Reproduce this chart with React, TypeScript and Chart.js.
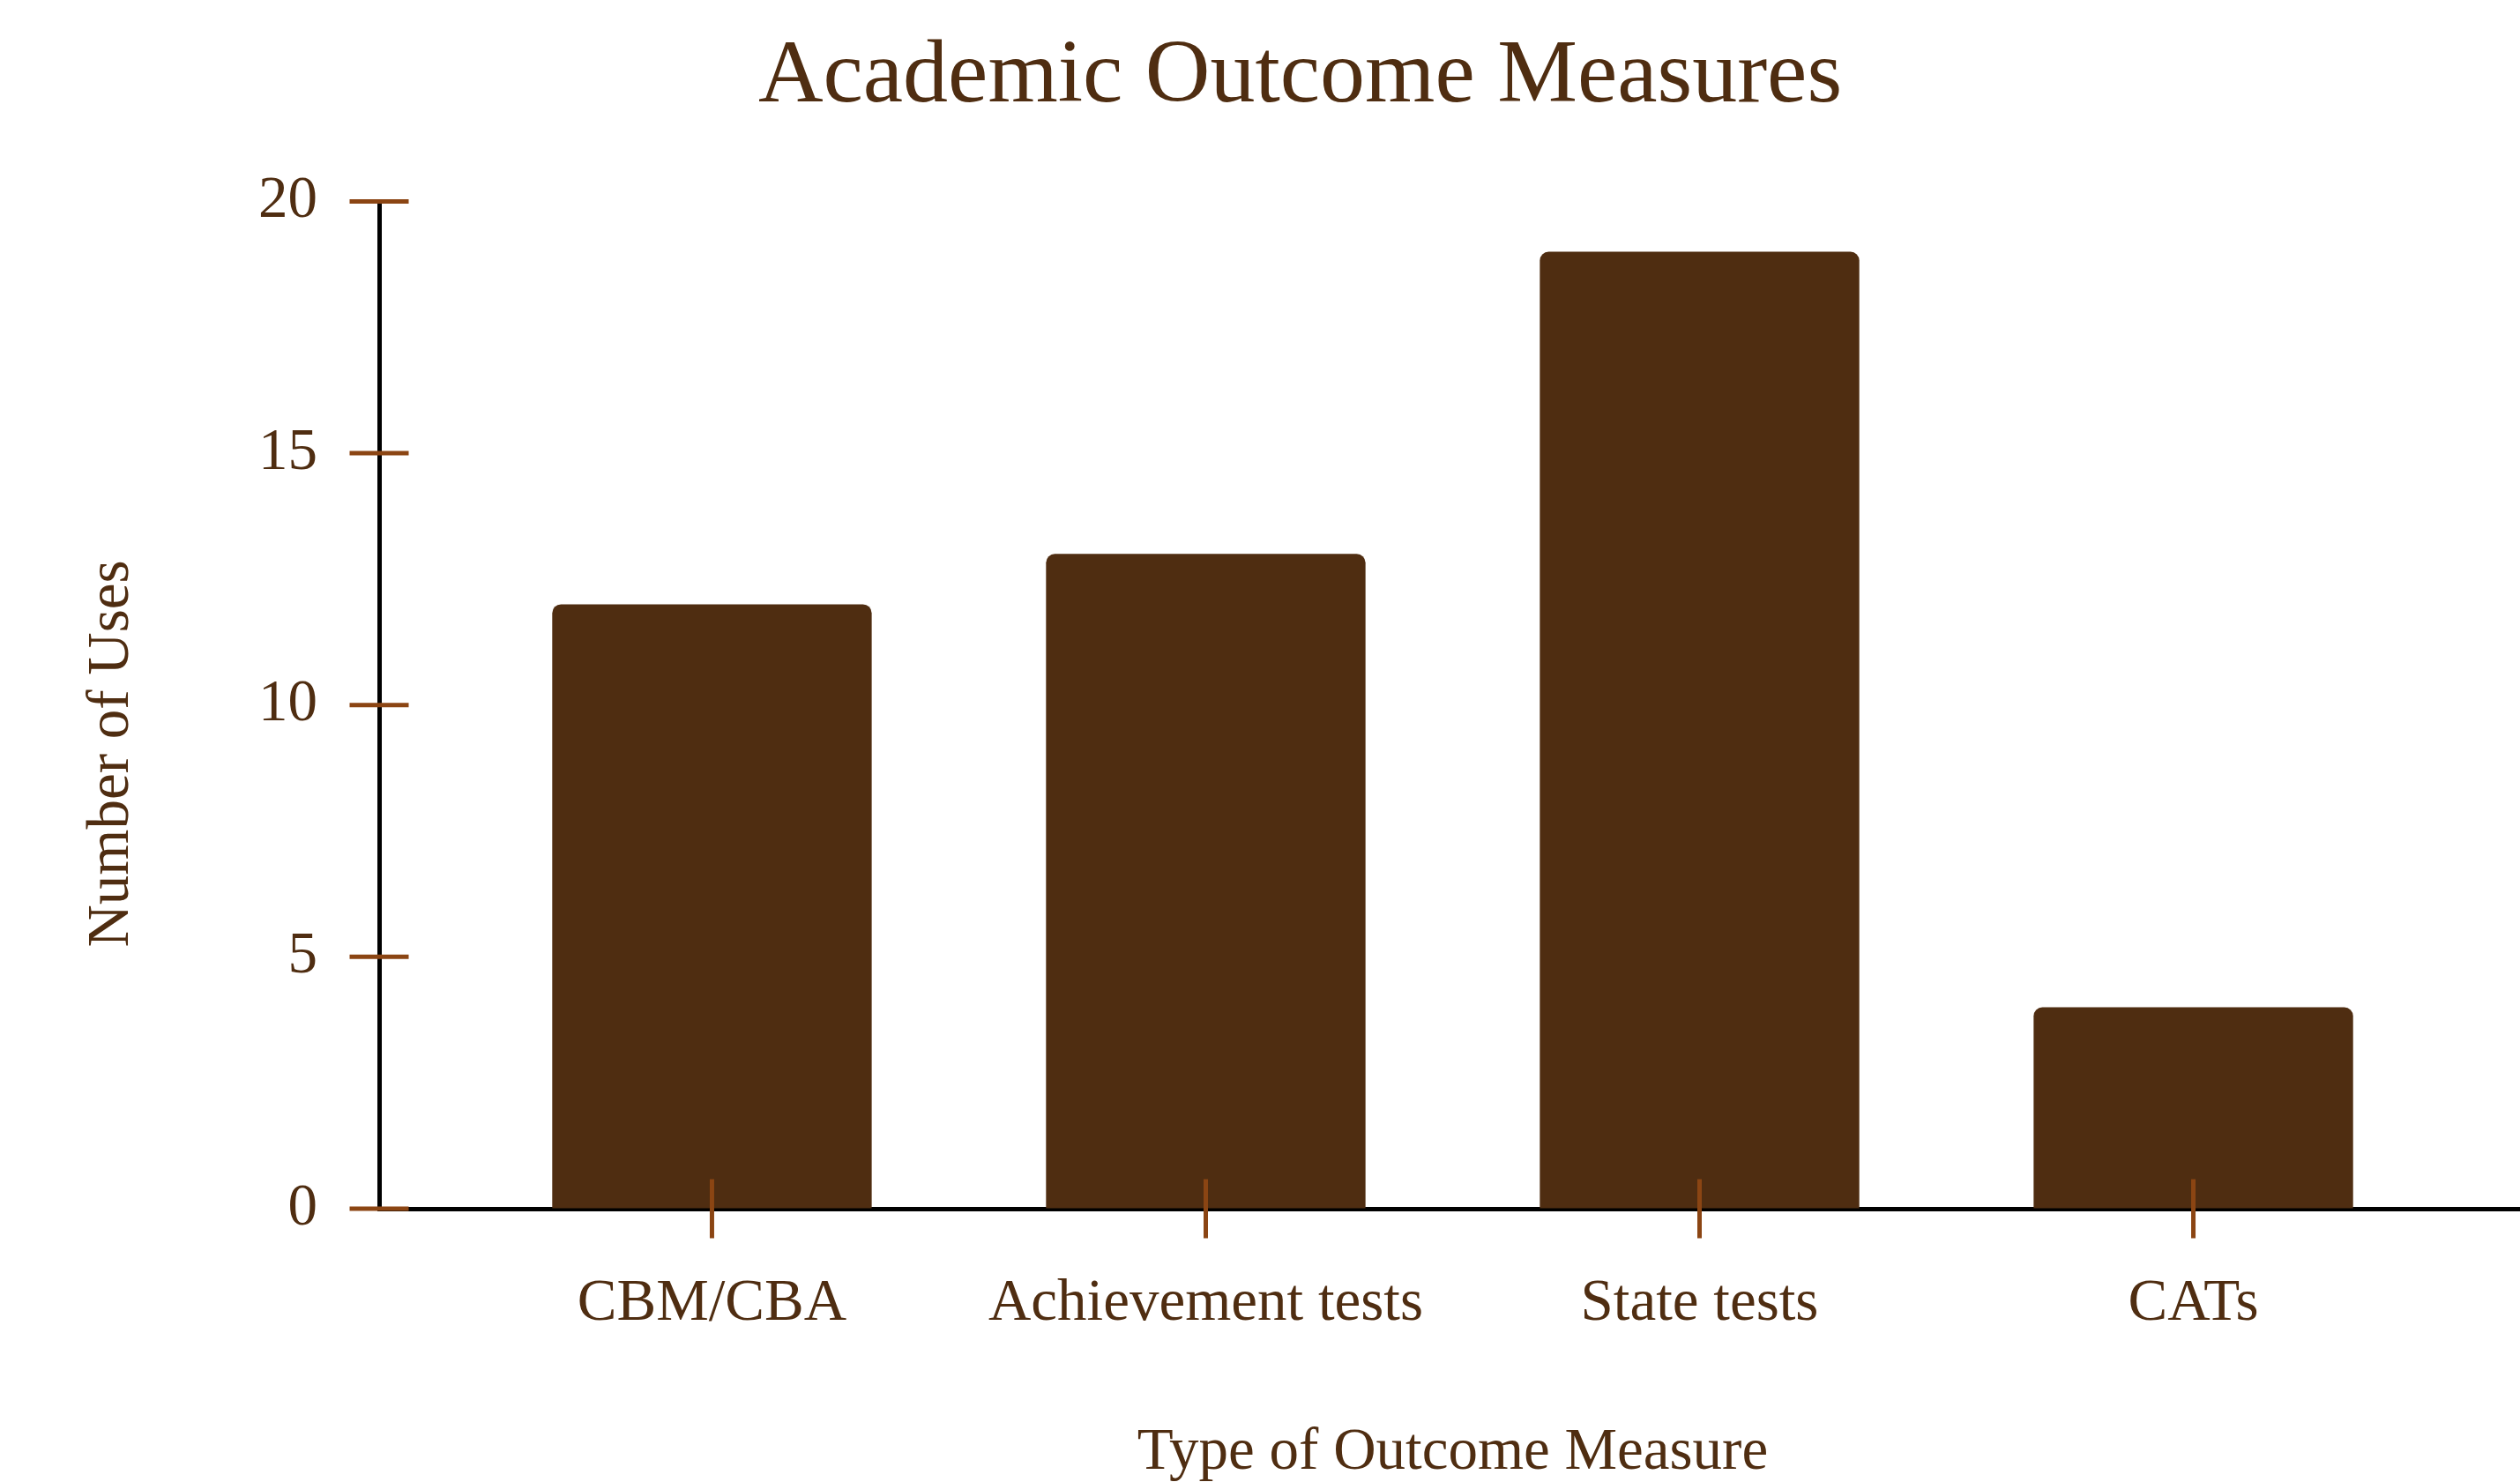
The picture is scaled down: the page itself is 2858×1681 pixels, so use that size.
import React, { useEffect, useRef } from 'react';
import { Chart, registerables } from 'chart.js';

Chart.register(...registerables);

// ---- data ----
const categories = ['CBM/CBA', 'Achievement tests', 'State tests', 'CATs'];
const uses = [12, 13, 19, 4];
const yMin = 0;
const yMax = 20;
const yStep = 5;

const chartTitle = 'Academic Outcome Measures';
const xTitle = 'Type of Outcome Measure';
const yTitle = 'Number of Uses';

// ---- style ----
const BROWN = '#4f2d11';
const TICK = '#8b4513';
const FONT = "'Liberation Serif', 'Times New Roman', serif";
const CANVAS_W = 2870;
const CANVAS_H = 1700;

export default function App() {
  const ref = useRef<HTMLCanvasElement>(null);

  useEffect(() => {
    const canvas = ref.current;
    if (!canvas) return;

    const crossTicks = {
      id: 'crossTicks',
      afterDatasetsDraw(chart: any) {
        const ctx = chart.ctx as CanvasRenderingContext2D;
        const xs = chart.scales.x;
        const ys = chart.scales.y;
        const area = chart.chartArea;
        const half = 33.5;
        ctx.save();
        ctx.strokeStyle = TICK;
        ctx.lineWidth = 5;
        xs.ticks.forEach((_: any, i: number) => {
          const px = xs.getPixelForTick(i);
          ctx.beginPath();
          ctx.moveTo(px, area.bottom - half);
          ctx.lineTo(px, area.bottom + half);
          ctx.stroke();
        });
        ys.ticks.forEach((_: any, i: number) => {
          const py = ys.getPixelForTick(i);
          ctx.beginPath();
          ctx.moveTo(area.left - half, py);
          ctx.lineTo(area.left + half, py);
          ctx.stroke();
        });
        // y-axis title
        ctx.fillStyle = BROWN;
        ctx.font = `67px ${FONT}`;
        ctx.textAlign = 'center';
        ctx.textBaseline = 'alphabetic';
        ctx.translate(145, 855);
        ctx.rotate(-Math.PI / 2);
        ctx.fillText(yTitle, 0, 0);
        ctx.restore();
      },
    };

    const chart = new Chart(canvas, {
      type: 'bar',
      data: {
        datasets: [
          {
            data: uses.map((v, i) => ({ x: i, y: v })),
            backgroundColor: BROWN,
            borderRadius: 10,
            barPercentage: 0.647,
            categoryPercentage: 1,
          },
        ],
      },
      options: {
        responsive: false,
        animation: false,
        devicePixelRatio: 1,
        layout: { padding: { left: 84, right: 5, top: 0, bottom: 0 } },
        plugins: {
          legend: { display: false },
          tooltip: { enabled: false },
          title: {
            display: true,
            text: chartTitle,
            color: BROWN,
            font: { family: FONT, size: 102, weight: 'normal' },
            padding: { top: 27, bottom: 79 },
          },
        },
        scales: {
          x: {
            type: 'linear',
            offset: false,
            bounds: 'data',
            min: -0.674,
            max: 3.674,
            afterBuildTicks: (s: any) => {
              s.ticks = categories.map((_, i) => ({ value: i }));
            },
            afterFit: (s: any) => {
              s.height = CANVAS_H - 1371;
            },
            ticks: {
              callback: (v: any) => categories[v] ?? '',
              color: BROWN,
              font: { family: FONT, size: 67 },
              padding: 68,
              maxRotation: 0,
              autoSkip: false,
            },
            grid: { display: true, drawOnChartArea: false, drawTicks: false, offset: false },
            border: { display: true, color: '#000', width: 5 },
            title: {
              display: true,
              text: xTitle,
              color: BROWN,
              font: { family: FONT, size: 67 },
              padding: { top: 0, bottom: 11 },
            },
          },
          y: {
            min: yMin,
            max: yMax,
            afterFit: (s: any) => {
              s.width = 346;
            },
            ticks: {
              stepSize: yStep,
              color: BROWN,
              font: { family: FONT, size: 67 },
              padding: 70,
            },
            grid: { display: true, drawOnChartArea: false, drawTicks: false },
            border: { display: true, color: '#000', width: 5 },
          },
        },
      } as any,
      plugins: [crossTicks],
    });

    return () => chart.destroy();
  }, []);

  return (
    <div
      style={{
        position: 'fixed',
        left: 0,
        top: 0,
        width: '100vw',
        height: '100vh',
        overflow: 'hidden',
        background: '#ffffff',
      }}
    >
      <canvas
        ref={ref}
        width={CANVAS_W}
        height={CANVAS_H}
        style={{ display: 'block', width: `${CANVAS_W}px`, height: `${CANVAS_H}px` }}
      />
    </div>
  );
}
